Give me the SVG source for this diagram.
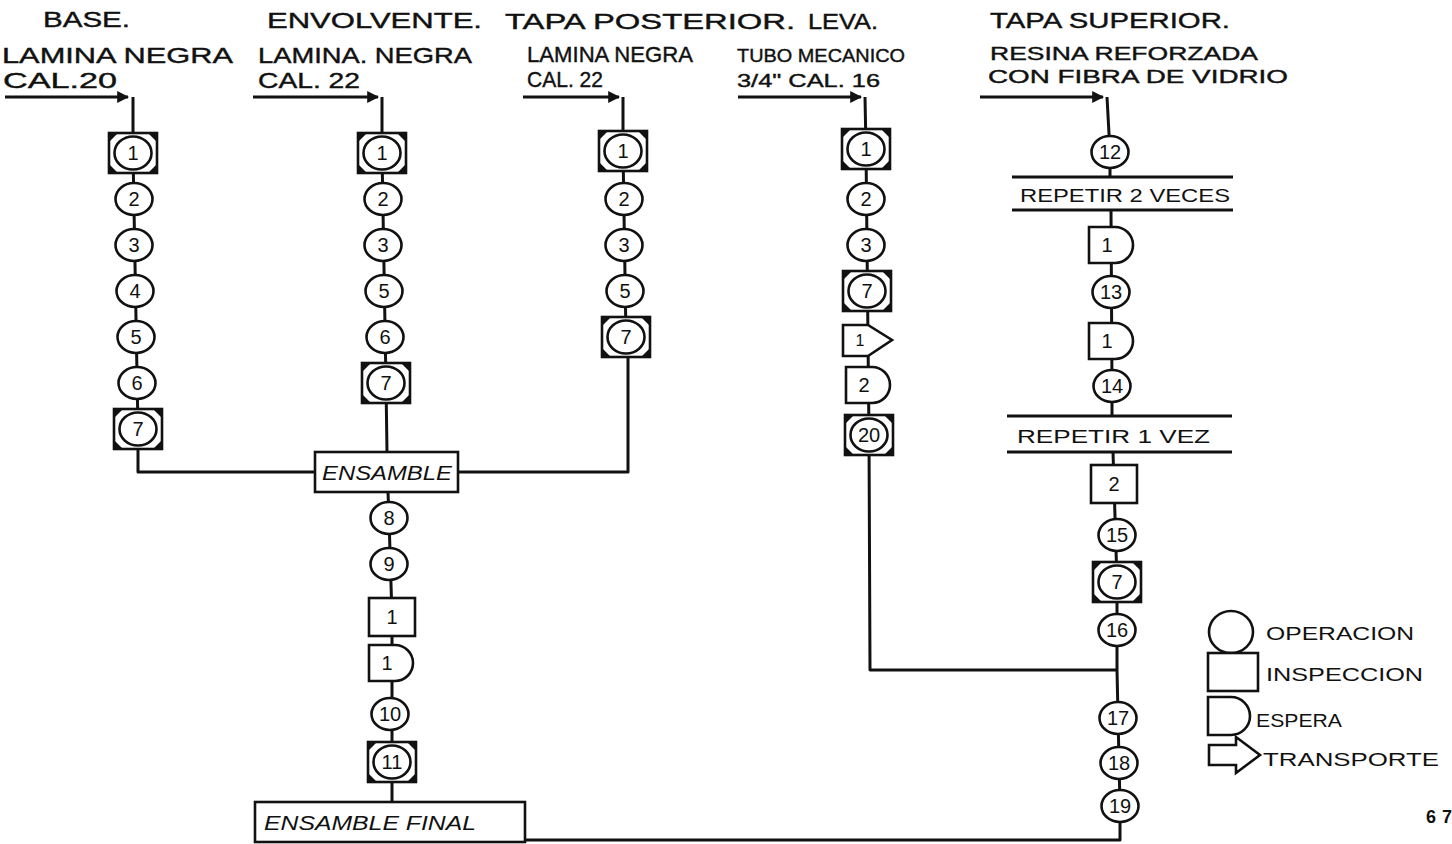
<svg xmlns="http://www.w3.org/2000/svg" width="1452" height="844" viewBox="0 0 1452 844">
<style>
text{font-family:"Liberation Sans","DejaVu Sans",sans-serif;fill:#111}
.hd{font-size:22px;stroke:#111;stroke-width:0.4}
.hs{font-size:19px;stroke:#111;stroke-width:0.4}
.num{font-size:20px;text-anchor:middle}
.lbl{font-size:20px;font-style:italic}
.lg{font-size:19px}
.ln{fill:none;stroke:#111;stroke-width:3;stroke-linejoin:round}
.sh{fill:#fff;stroke:#111;stroke-width:2.6}
.cr{fill:#111}
</style>
<defs>
<marker id="ah" viewBox="0 0 10 10" refX="9" refY="5" markerWidth="4" markerHeight="4" orient="auto" markerUnits="strokeWidth">
<path d="M0,0 L10,5 L0,10 Z" fill="#111"/>
</marker>
<symbol id="op" overflow="visible"><ellipse class="sh" rx="18.5" ry="16"/></symbol>
<symbol id="combo" overflow="visible">
<rect class="sh" x="-24" y="-20" width="48" height="40" stroke-width="3.2"/>
<path class="cr" d="M-24,-20 h9 l-9,9z M24,-20 h-9 l9,9z M-24,20 h9 l-9,-9z M24,20 h-9 l9,-9z"/>
<ellipse class="sh" rx="18.5" ry="16.5"/>
</symbol>
<symbol id="sq" overflow="visible"><rect class="sh" x="-23" y="-19" width="46" height="38"/></symbol>
<symbol id="esp" overflow="visible"><path class="sh" d="M-22,-18 H4 A18,18 0 0 1 4,18 H-22 Z"/></symbol>
<symbol id="tr" overflow="visible"><path class="sh" d="M-24,-15 H1 L25,0 L1,16 H-24 Z"/></symbol>
</defs>

<g id="headers">
<text class="hd" x="43" y="27" textLength="87" lengthAdjust="spacingAndGlyphs">BASE.</text>
<text class="hd" x="2" y="63" textLength="231" lengthAdjust="spacingAndGlyphs">LAMINA NEGRA</text>
<text class="hd" x="3" y="88" textLength="114" lengthAdjust="spacingAndGlyphs">CAL.20</text>
<text class="hd" x="267" y="28" textLength="215" lengthAdjust="spacingAndGlyphs">ENVOLVENTE.</text>
<text class="hd" x="258" y="63" textLength="214" lengthAdjust="spacingAndGlyphs">LAMINA. NEGRA</text>
<text class="hd" x="258" y="88" textLength="102" lengthAdjust="spacingAndGlyphs">CAL. 22</text>
<text class="hd" x="505" y="29" textLength="290" lengthAdjust="spacingAndGlyphs">TAPA POSTERIOR.</text>
<text class="hd" x="527" y="62" textLength="166" lengthAdjust="spacingAndGlyphs">LAMINA NEGRA</text>
<text class="hd" x="527" y="87" textLength="76" lengthAdjust="spacingAndGlyphs">CAL. 22</text>
<text class="hd" x="808" y="29" textLength="70" lengthAdjust="spacingAndGlyphs">LEVA.</text>
<text class="hs" x="737" y="62" textLength="168" lengthAdjust="spacingAndGlyphs">TUBO MECANICO</text>
<text class="hs" x="737" y="87" textLength="143" lengthAdjust="spacingAndGlyphs">3/4" CAL. 16</text>
<text class="hd" x="990" y="28" textLength="240" lengthAdjust="spacingAndGlyphs">TAPA SUPERIOR.</text>
<text class="hs" x="990" y="60" textLength="268" lengthAdjust="spacingAndGlyphs">RESINA REFORZADA</text>
<text class="hs" x="988" y="83" textLength="300" lengthAdjust="spacingAndGlyphs">CON FIBRA DE VIDRIO</text>
</g>

<g id="connectors">
<path class="ln" d="M5,97 H128" marker-end="url(#ah)"/>
<path class="ln" d="M253,97 H378" marker-end="url(#ah)"/>
<path class="ln" d="M523,97 H619" marker-end="url(#ah)"/>
<path class="ln" d="M738,97 H861" marker-end="url(#ah)"/>
<path class="ln" d="M980,97 H1103" marker-end="url(#ah)"/>
<path class="ln" d="M133,97 L133,153 L138,429 L138,472 L315,472"/>
<path class="ln" d="M382,97 L382,153 L386,383 L387,452"/>
<path class="ln" d="M388,492 L389,518 L392,617 L392,802"/>
<path class="ln" d="M623,97 L623,151 L626,337 L628,355 L628,472 L458,472"/>
<path class="ln" d="M865,97 L866,149 L869,435 L870,670 L1117,670"/>
<path class="ln" d="M1107,97 L1110,152 L1110,177"/>
<path class="ln" d="M1111,210 L1112,386 L1112,416"/>
<path class="ln" d="M1113,452 L1114,484 L1117,582 L1117,670 L1120,806 L1120,840 L525,840"/>
<path class="ln" d="M1012,177 H1233 M1012,210 H1233 M1007,416 H1232 M1007,452 H1232"/>
</g>

<g id="col-base">
<g id="b1"><use href="#combo" x="133" y="153"/><text class="num" x="133" y="160">1</text></g>
<g id="b2"><use href="#op" x="134" y="199"/><text class="num" x="134" y="206">2</text></g>
<g id="b3"><use href="#op" x="134" y="245"/><text class="num" x="134" y="252">3</text></g>
<g id="b4"><use href="#op" x="135" y="291"/><text class="num" x="135" y="298">4</text></g>
<g id="b5"><use href="#op" x="136" y="337"/><text class="num" x="136" y="344">5</text></g>
<g id="b6"><use href="#op" x="137" y="383"/><text class="num" x="137" y="390">6</text></g>
<g id="b7"><use href="#combo" x="138" y="429"/><text class="num" x="138" y="436">7</text></g>
</g>

<g id="col-envolvente">
<g id="e1"><use href="#combo" x="382" y="153"/><text class="num" x="382" y="160">1</text></g>
<g id="e2"><use href="#op" x="383" y="199"/><text class="num" x="383" y="206">2</text></g>
<g id="e3"><use href="#op" x="383" y="245"/><text class="num" x="383" y="252">3</text></g>
<g id="e5"><use href="#op" x="384" y="291"/><text class="num" x="384" y="298">5</text></g>
<g id="e6"><use href="#op" x="385" y="337"/><text class="num" x="385" y="344">6</text></g>
<g id="e7"><use href="#combo" x="386" y="383"/><text class="num" x="386" y="390">7</text></g>
</g>

<g id="ensamble"><rect class="sh" x="315" y="452" width="143" height="40" stroke-width="3"/><text class="lbl" x="322" y="480" textLength="130" lengthAdjust="spacingAndGlyphs">ENSAMBLE</text></g>

<g id="col-ensamble">
<g id="a8"><use href="#op" x="389" y="518"/><text class="num" x="389" y="525">8</text></g>
<g id="a9"><use href="#op" x="389" y="564"/><text class="num" x="389" y="571">9</text></g>
<g id="ai1"><use href="#sq" x="392" y="617"/><text class="num" x="392" y="624">1</text></g>
<g id="ae1"><use href="#esp" x="391" y="663"/><text class="num" x="387" y="670">1</text></g>
<g id="a10"><use href="#op" x="390" y="714"/><text class="num" x="390" y="721">10</text></g>
<g id="a11"><use href="#combo" x="392" y="762"/><text class="num" x="392" y="769">11</text></g>
</g>

<g id="ensamble-final"><rect class="sh" x="255" y="802" width="270" height="40" stroke-width="3"/><text class="lbl" x="264" y="830" textLength="212" lengthAdjust="spacingAndGlyphs">ENSAMBLE FINAL</text></g>

<g id="col-tapa-posterior">
<g id="p1"><use href="#combo" x="623" y="151"/><text class="num" x="623" y="158">1</text></g>
<g id="p2"><use href="#op" x="624" y="199"/><text class="num" x="624" y="206">2</text></g>
<g id="p3"><use href="#op" x="624" y="245"/><text class="num" x="624" y="252">3</text></g>
<g id="p5"><use href="#op" x="625" y="291"/><text class="num" x="625" y="298">5</text></g>
<g id="p7"><use href="#combo" x="626" y="337"/><text class="num" x="626" y="344">7</text></g>
</g>

<g id="col-leva">
<g id="l1"><use href="#combo" x="866" y="149"/><text class="num" x="866" y="156">1</text></g>
<g id="l2"><use href="#op" x="866" y="199"/><text class="num" x="866" y="206">2</text></g>
<g id="l3"><use href="#op" x="866" y="245"/><text class="num" x="866" y="252">3</text></g>
<g id="l7"><use href="#combo" x="867" y="291"/><text class="num" x="867" y="298">7</text></g>
<g id="lt1"><use href="#tr" x="867" y="340"/><text class="num" x="860" y="346" style="font-size:16px">1</text></g>
<g id="le2"><use href="#esp" x="868" y="385"/><text class="num" x="864" y="392">2</text></g>
<g id="l20"><use href="#combo" x="869" y="435"/><text class="num" x="869" y="442">20</text></g>
</g>

<g id="col-tapa-superior">
<g id="s12"><use href="#op" x="1110" y="152"/><text class="num" x="1110" y="159">12</text></g>
<g id="rep2"><text class="lg" x="1020" y="202" textLength="210" lengthAdjust="spacingAndGlyphs">REPETIR 2 VECES</text></g>
<g id="se1a"><use href="#esp" x="1111" y="245"/><text class="num" x="1107" y="252">1</text></g>
<g id="s13"><use href="#op" x="1111" y="292"/><text class="num" x="1111" y="299">13</text></g>
<g id="se1b"><use href="#esp" x="1111" y="341"/><text class="num" x="1107" y="348">1</text></g>
<g id="s14"><use href="#op" x="1112" y="386"/><text class="num" x="1112" y="393">14</text></g>
<g id="rep1"><text class="lg" x="1017" y="443" textLength="193" lengthAdjust="spacingAndGlyphs">REPETIR 1 VEZ</text></g>
<g id="si2"><use href="#sq" x="1114" y="484"/><text class="num" x="1114" y="491">2</text></g>
<g id="s15"><use href="#op" x="1117" y="535"/><text class="num" x="1117" y="542">15</text></g>
<g id="s7"><use href="#combo" x="1117" y="582"/><text class="num" x="1117" y="589">7</text></g>
<g id="s16"><use href="#op" x="1117" y="630"/><text class="num" x="1117" y="637">16</text></g>
<g id="s17"><use href="#op" x="1118" y="718"/><text class="num" x="1118" y="725">17</text></g>
<g id="s18"><use href="#op" x="1119" y="763"/><text class="num" x="1119" y="770">18</text></g>
<g id="s19"><use href="#op" x="1120" y="806"/><text class="num" x="1120" y="813">19</text></g>
</g>

<g id="legend">
<g id="lg-op"><ellipse class="sh" cx="1231" cy="632" rx="22" ry="21"/><text class="lg" x="1266" y="640" textLength="148" lengthAdjust="spacingAndGlyphs">OPERACION</text></g>
<g id="lg-in"><rect class="sh" x="1208" y="653" width="50" height="38"/><text class="lg" x="1266" y="681" textLength="157" lengthAdjust="spacingAndGlyphs">INSPECCION</text></g>
<g id="lg-es"><path class="sh" d="M1208,697 H1231 A19,19 0 0 1 1231,735 H1208 Z"/><text class="lg" x="1256" y="727" textLength="86" lengthAdjust="spacingAndGlyphs">ESPERA</text></g>
<g id="lg-tr"><path class="sh" d="M1209,745 H1236 V737 L1260,755 L1236,773 V765 H1209 Z"/><text class="lg" x="1263" y="766" textLength="176" lengthAdjust="spacingAndGlyphs">TRANSPORTE</text></g>
</g>
<text x="1426" y="823" style="font-size:18px;font-weight:bold" textLength="26">67</text>
</svg>
